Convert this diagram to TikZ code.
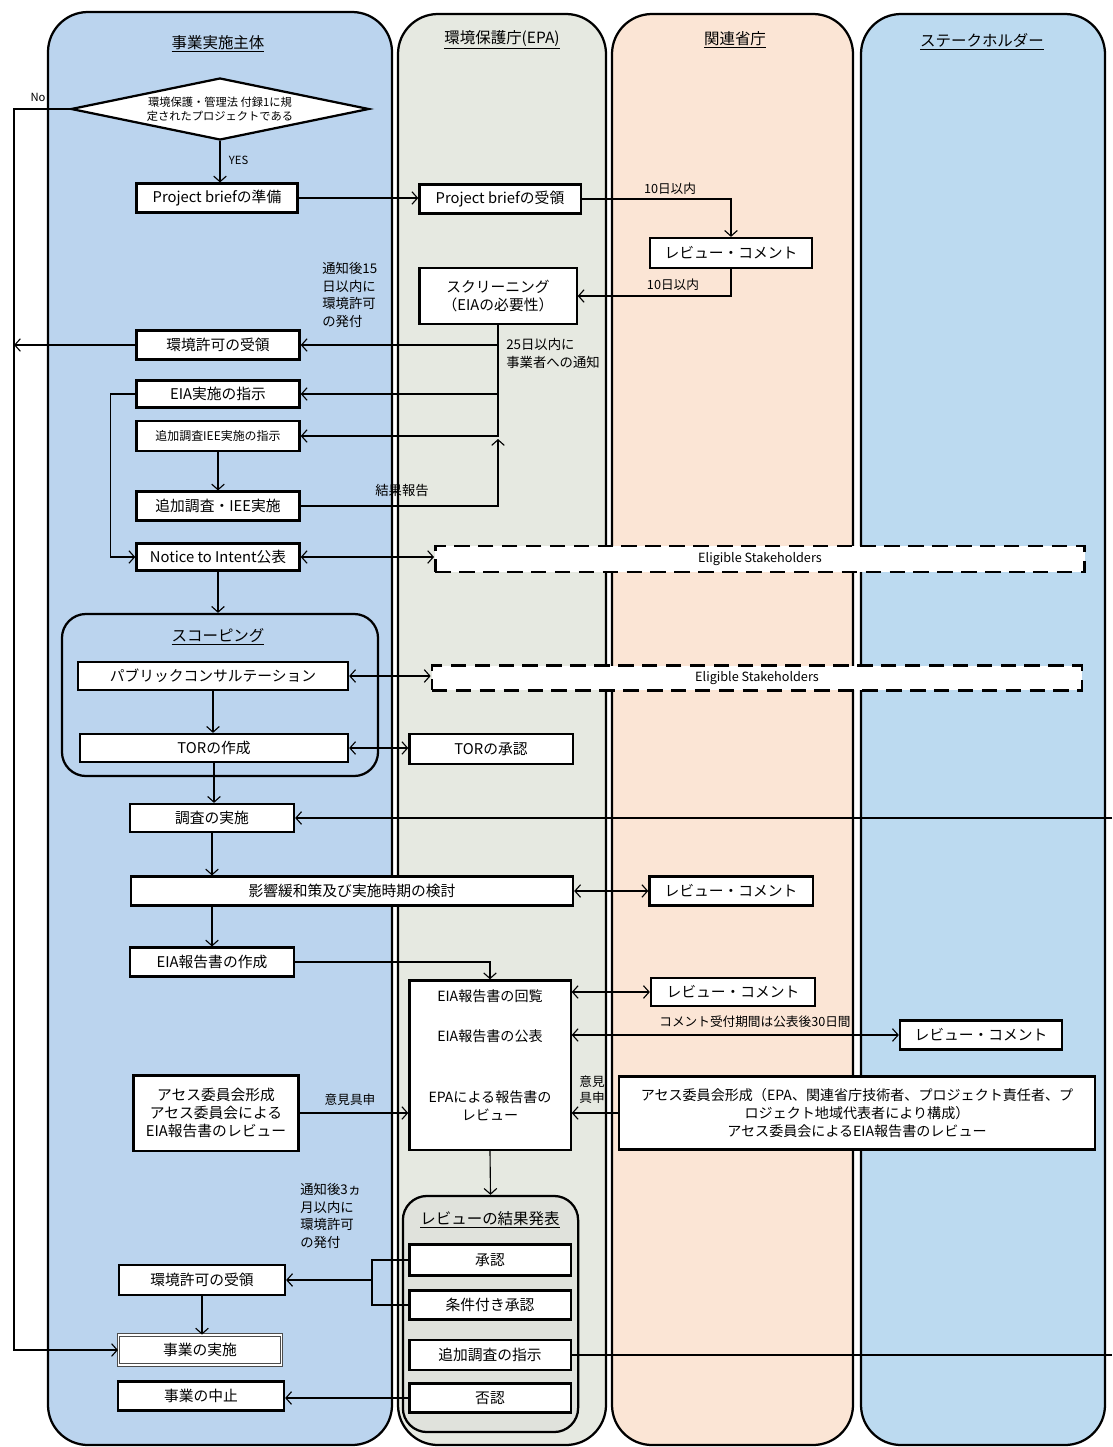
\documentclass[tikz,border=0pt]{standalone}
\usepackage{fontspec}
\setmainfont{Noto Sans CJK JP}
\usepackage{xcolor}
\usetikzlibrary{calc, positioning, shapes.geometric, arrows.meta}
\definecolor{laneA}{RGB}{187,212,238}
\definecolor{laneB}{RGB}{230,233,225}
\definecolor{laneC}{RGB}{251,229,213}
\definecolor{laneD}{RGB}{188,218,240}
\definecolor{resgray}{RGB}{224,226,220}
\tikzset{
  lane/.style={line width=1.6pt, rounded corners=1cm},
  box/.style={draw, line width=1.6pt, fill=white, inner sep=1pt, align=center,
    minimum height=0.72cm, font=\fontsize{10.5}{13}\selectfont},
  esbox/.style={draw, line width=1.8pt, fill=white, dash pattern=on 11pt off 6pt,
    minimum height=0.66cm, font=\fontsize{9}{11}\selectfont},
  note/.style={inner sep=0pt, align=left, font=\fontsize{9.5}{12.5}\selectfont},
  title/.style={font=\fontsize{11}{13}\selectfont},
  conn/.style={line width=0.8pt},
}

\begin{document}
\begin{tikzpicture}[x=0.025cm, y=-0.025cm, >={Straight Barb[length=4pt,width=9pt]}]
  \fill[white] (0,0) rectangle (1112,1447);
  \useasboundingbox (0,0) rectangle (1112,1447);
  % lanes
  \draw[lane, fill=laneA] (48,12) rectangle (392,1445);
  \draw[lane, fill=laneB] (398,14) rectangle (606,1445);
  \draw[lane, fill=laneC] (612,14) rectangle (853,1445);
  \draw[lane, fill=laneD] (861,14) rectangle (1105,1445);
  \node[title] (tA) at (218,44) {\underline{事業実施主体}};
  \node[title] (tB) at (502,40) {\underline{環境保護庁(EPA)}};
  \node[title] (tC) at (735,40) {\underline{関連省庁}};
  \node[title] (tD) at (982,42) {\underline{ステークホルダー}};
  \coordinate (ledge) at (14,0);
  \coordinate (redge) at (1112,0);

  % containers
  \node[draw, line width=1.6pt, rounded corners=0.6cm, fill=laneA,
    minimum width=7.9cm, minimum height=4.05cm] (scoping) at (220,695) {};
  \node[title] at (218,637) {\underline{スコーピング}};
  \node[draw, line width=1.6pt, rounded corners=0.6cm, fill=resgray,
    minimum width=4.38cm, minimum height=5.9cm] (results) at (490.5,1314) {};
  \node[title] at (490,1220) {\underline{レビューの結果発表}};

  % decision
  \node[draw, diamond, line width=1.6pt, fill=white, aspect=4.8, inner sep=0pt,
    minimum width=7.45cm, minimum height=1.55cm, align=center,
    font=\fontsize{8}{10}\selectfont] (dec) at (220,109)
    {環境保護・管理法 付録1に規\\定されたプロジェクトである};

  % 事業実施主体
  \node[box, minimum width=4.03cm] (prep) at (217,198) {Project briefの準備};
  \node[box, minimum width=4.08cm] (permitA) at (218,345) {環境許可の受領};
  \node[box, minimum width=4.08cm, minimum height=0.68cm] (eiainst) at (218,394) {EIA実施の指示};
  \node[box, minimum width=4.08cm, minimum height=0.75cm,
    font=\fontsize{8.5}{10}\selectfont] (ieeinst) at (218,436) {追加調査IEE実施の指示};
  \node[box, minimum width=4.08cm] (ieedo) at (218,506) {追加調査・IEE実施};
  \node[box, minimum width=4.08cm, minimum height=0.68cm] (notice) at (218,557) {Notice to Intent公表};
  \node[box, minimum width=6.75cm, minimum height=0.7cm] (pubcon) at (213,676) {パブリックコンサルテーション};
  \node[box, minimum width=6.7cm, minimum height=0.7cm] (tormake) at (214,748) {TORの作成};
  \node[box, minimum width=4.1cm, minimum height=0.7cm] (survey) at (212,818) {調査の実施};
  \node[box, minimum width=11.05cm] (mitig) at (352,891) {影響緩和策及び実施時期の検討};
  \node[box, minimum width=4.1cm] (eiamake) at (212,962) {EIA報告書の作成};
  \node[box, minimum width=4.13cm, minimum height=1.88cm] (assesA) at (216,1113)
    {アセス委員会形成\\アセス委員会による\\EIA報告書のレビュー};
  \node[box, minimum width=4.15cm, minimum height=0.75cm] (permitB) at (202,1280) {環境許可の受領};
  \node[box, minimum width=4.08cm, minimum height=0.75cm, line width=0.6pt,
    draw=black!70, double=white, double distance=1.2pt] (impl) at (200,1350) {事業の実施};
  \node[box, minimum width=4.15cm] (halt) at (201,1396) {事業の中止};

  % 環境保護庁
  \node[box, minimum width=4.03cm] (recv) at (500,199) {Project briefの受領};
  \node[box, minimum width=3.93cm, minimum height=1.4cm] (screen) at (498,296)
    {スクリーニング\\（EIAの必要性）};
  \node[box, minimum width=4.08cm, minimum height=0.75cm] (torok) at (491,749) {TORの承認};
  \node[box, minimum width=4.03cm, minimum height=4.23cm] (epabox) at (490,1065) {};
  \node[font=\fontsize{10}{12}\selectfont] (circ) at (490,996) {EIA報告書の回覧};
  \node[font=\fontsize{10}{12}\selectfont] (pub) at (490,1036) {EIA報告書の公表};
  \node[font=\fontsize{10}{13}\selectfont, align=center] (epar) at (490,1106) {EPAによる報告書の\\レビュー};
  \node[box, minimum width=4.03cm, minimum height=0.78cm] (approve) at (490,1260) {承認};
  \node[box, minimum width=4.03cm] (condap) at (490,1305) {条件付き承認};
  \node[box, minimum width=4.03cm, minimum height=0.75cm] (addinst) at (490,1355) {追加調査の指示};
  \node[box, minimum width=4.03cm] (reject) at (490,1398) {否認};

  % 関連省庁 / ステークホルダー
  \node[box, minimum width=4.05cm, minimum height=0.75cm] (revA) at (731,253) {レビュー・コメント};
  \node[box, minimum width=4.08cm] (revB) at (731,891) {レビュー・コメント};
  \node[box, minimum width=4.1cm, minimum height=0.7cm] (revC) at (733,992) {レビュー・コメント};
  \node[box, minimum width=4.05cm] (revD) at (981,1035) {レビュー・コメント};
  \node[box, minimum width=11.88cm, minimum height=1.83cm, font=\fontsize{10}{13}\selectfont]
    (assesB) at (857,1113)
    {アセス委員会形成（EPA、関連省庁技術者、プロジェクト責任者、プ\\ロジェクト地域代表者により構成）\\アセス委員会によるEIA報告書のレビュー};
  \node[esbox, minimum width=16.23cm] (esA) at (760,559) {Eligible Stakeholders};
  \node[esbox, minimum width=16.25cm, minimum height=0.62cm] (esB) at (757,678) {Eligible Stakeholders};

  % connectors
  \draw[conn, ->] (dec.south) -- (dec.south |- prep.north);
  \node[font=\fontsize{8}{10}\selectfont, anchor=west] at (224,160) {YES};
  \draw[conn, ->] (dec.west) -- (dec.west -| ledge) |- (impl.west);
  \node[font=\fontsize{8}{10}\selectfont] at (38,97) {No};
  \draw[conn, ->] (prep.east) -- (prep.east -| recv.west);
  \draw[conn, ->] (recv.east) -| (revA.north);
  \node[font=\fontsize{9}{11}\selectfont] at (670,189) {10日以内};
  \draw[conn, ->] (revA.south) |- (screen.east);
  \node[font=\fontsize{9}{11}\selectfont] at (673,285) {10日以内};
  \draw[conn, ->] (screen.south) |- (ieeinst.east);
  \draw[conn, ->] (screen.south |- permitA.east) -- (permitA.east);
  \draw[conn, ->] (screen.south |- eiainst.east) -- (eiainst.east);
  \draw[conn, ->] (ieedo.east) -| ($(screen.south |- ieeinst.east)+(0,3)$);
  \draw[conn, ->] (permitA.west) -- (permitA.west -| ledge);
  \draw[conn, ->] (ieeinst.south) -- (ieedo.north);
  \draw[conn, ->] (eiainst.west) -- ++(-25,0) |- (notice.west);
  \node[note, anchor=north west] at (322,262) {通知後15\\日以内に\\環境許可\\の発付};
  \node[note, anchor=north west] at (506,338) {25日以内に\\事業者への通知};
  \node[note] at (402,490) {結果報告};
  \draw[conn, <->] (notice.east) -- (notice.east -| esA.west);
  \draw[conn, ->] (notice.south) -- (notice.south |- scoping.north);
  \draw[conn, <->] (pubcon.east) -- (pubcon.east -| esB.west);
  \draw[conn, ->] (pubcon.south) -- (pubcon.south |- tormake.north);
  \draw[conn, <->] (tormake.east) -- (tormake.east -| torok.west);
  \draw[conn, ->] (tormake.south) -- (tormake.south |- survey.north);
  \draw[conn, ->] (survey.east -| redge) -- (survey.east);
  \draw[conn, ->] (survey.south) -- (survey.south |- mitig.north);
  \draw[conn, <->] (mitig.east) -- (revB.west);
  \draw[conn, ->] (eiamake.north |- mitig.south) -- (eiamake.north);
  \draw[conn, ->] (eiamake.east) -| (epabox.north);
  \draw[conn, <->] (epabox.east |- revC.west) -- (revC.west);
  \draw[conn, <->] (epabox.east |- revD.west) -- (revD.west);
  \node[font=\fontsize{9}{11}\selectfont] at (755,1022) {コメント受付期間は公表後30日間};
  \draw[conn, ->] (assesA.east) -- (assesA.east -| epabox.west);
  \node[font=\fontsize{9}{11}\selectfont] at (350,1100) {意見具申};
  \draw[conn, ->] (assesB.west) -- (assesB.west -| epabox.east);
  \node[font=\fontsize{9}{11.5}\selectfont, align=center] at (592,1090) {意見\\具申};
  \draw[conn, ->] (epabox.south) -- (results.north);
  \coordinate (jn) at (372,1280);
  \draw[conn] (approve.west) -- (approve.west -| jn) -- (condap.west -| jn) -- (condap.west);
  \draw[conn, ->] (jn) -- (jn -| permitB.east);
  \node[note, anchor=north west] at (300,1183) {通知後3ヵ\\月以内に\\環境許可\\の発付};
  \draw[conn, ->] (permitB.south) -- (permitB.south |- impl.north);
  \draw[conn, ->] (reject.west) -- (reject.west -| halt.east);
  \draw[conn] (addinst.east) -- (addinst.east -| redge);
\end{tikzpicture}
\end{document}
